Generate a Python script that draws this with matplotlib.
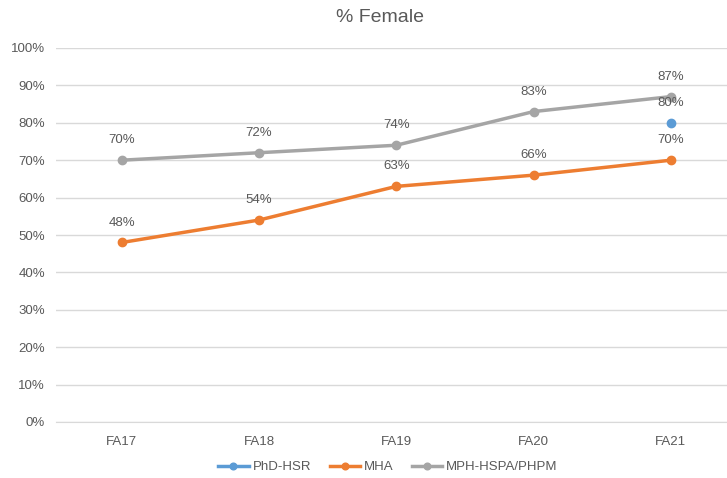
import numpy as np
import matplotlib.pyplot as plt

terms = ["FA17", "FA18", "FA19", "FA20", "FA21"]
phd_hsr = [np.nan, np.nan, np.nan, np.nan, 80]
mha = [48, 54, 63, 66, 70]
mph = [70, 72, 74, 83, 87]
yticks = list(range(0, 101, 10))

txt = "#595959"
plt.rcParams['font.family'] = ['Liberation Sans', 'DejaVu Sans']

fig = plt.figure(figsize=(7.27, 4.78), dpi=100)
ax = fig.add_axes([56 / 727, 1 - 422 / 478, 1 - 56 / 727, (422 - 48) / 478])

x = np.arange(len(terms))
series = [("PhD-HSR", phd_hsr, "#5B9BD5"),
          ("MHA", mha, "#ED7D31"),
          ("MPH-HSPA/PHPM", mph, "#A5A5A5")]
for name, vals, col in series:
    ax.plot(x, vals, color=col, lw=2.5, marker="o", ms=6, label=name)
    for xi, v in zip(x, vals):
        if not np.isnan(v):
            ax.annotate(f"{v:.0f}%", (xi, v), xytext=(0, 10), textcoords="offset points",
                        ha="center", va="bottom", fontsize=9.5, color=txt)

ax.set_xlim(-0.48, 4.41)
ax.set_ylim(0, 100)
ax.set_yticks(yticks)
ax.set_yticklabels([f"{t}%" for t in yticks])
ax.set_xticks(x)
ax.set_xticklabels(terms)
ax.grid(axis="y", color="#D9D9D9", lw=1)
ax.set_axisbelow(True)
for s in ["top", "right", "left"]:
    ax.spines[s].set_visible(False)
ax.spines["bottom"].set_color("#D9D9D9")
ax.tick_params(length=0, colors=txt, labelsize=9.5, pad=8)
ax.tick_params(axis="x", pad=10)

fig.text(380 / 727, 1 - 17 / 478, "% Female", ha="center", va="center", fontsize=14, color=txt)
fig.legend(loc="center", bbox_to_anchor=(388 / 727, 1 - 467 / 478), ncol=3, frameon=False,
           fontsize=9.5, labelcolor=txt, handlelength=2.3, handletextpad=0.3,
           columnspacing=1.4, markerscale=0.8)

fig.savefig("out.png", dpi=100)
